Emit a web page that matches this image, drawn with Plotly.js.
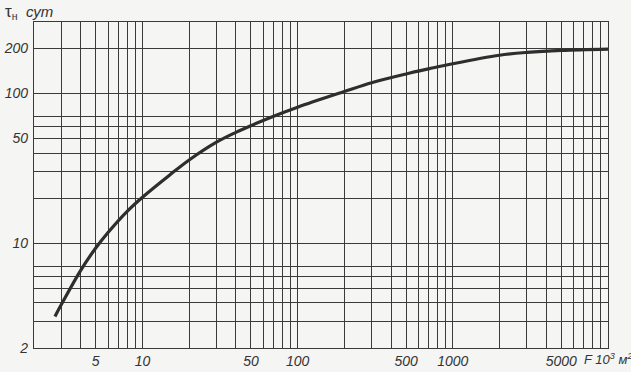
<!DOCTYPE html>
<html><head><meta charset="utf-8">
<script src="https://cdn.plot.ly/plotly-3.0.1.min.js"></script>
<style>html,body{margin:0;padding:0;background:#f5f5f4;}</style>
</head><body>
<div id="chart" style="width:631px;height:372px;"></div>
<script>
// Curve: F (10^3 m^2) vs tau_n (days)
const areaF = [2.73, 3, 4, 5, 6, 8, 10, 15, 20, 30, 40, 50, 70, 100, 200, 300, 500, 700, 1000, 2000, 3000, 5000, 10000];
const tauN  = [3.25, 3.9, 6.6, 9.3, 11.8, 16.4, 20.3, 28.6, 36, 47.3, 55, 61, 70.5, 81, 103, 118, 135, 146, 158, 180, 188, 194, 198];

const xGrid = [3,4,5,6,7,8,9,10,20,30,40,50,60,70,80,90,100,200,300,400,500,600,700,800,900,1000,2000,3000,4000,5000,6000,7000,8000,9000];
const xLabels = {5:'5',10:'10',50:'50',100:'100',500:'500',1000:'1000',5000:'5000'};
const yGrid = [2,3,4,5,6,7,10,20,30,40,50,60,70,100,200];
const yLabels = {2:'2',10:'10',50:'50',100:'100',200:'200'};

const tickFont = {family:'Liberation Sans, Arial, sans-serif', size:14, color:'#333', style:'italic'};
const ink = '#3a3a3a';

const trace = {
  x: areaF, y: tauN, type:'scatter', mode:'lines',
  line:{color:'#2e2e2e', width:3.2, shape:'spline', smoothing:1},
  hoverinfo:'skip'
};

const layout = {
  width:631, height:372,
  margin:{l:34, r:23, t:22, b:24},
  paper_bgcolor:'#f5f5f4', plot_bgcolor:'#f5f5f4',
  showlegend:false,
  xaxis:{
    type:'log', range:[Math.log10(2), 4],
    tickmode:'array', tickvals:xGrid, ticktext:xGrid.map(v=>xLabels[v]||''),
    ticks:'', showgrid:true, gridcolor:ink, gridwidth:1,
    showline:true, mirror:true, linecolor:ink, linewidth:1.2,
    zeroline:false, tickfont:tickFont, ticklabelstandoff:0
  },
  yaxis:{
    type:'log', range:[Math.log10(2), Math.log10(300)],
    tickmode:'array', tickvals:yGrid, ticktext:yGrid.map(v=>yLabels[v]||''),
    ticks:'', showgrid:true, gridcolor:ink, gridwidth:1,
    showline:true, mirror:true, linecolor:ink, linewidth:1.2,
    zeroline:false, tickfont:tickFont, ticklabelstandoff:2
  },
  annotations:[
    {xref:'paper', yref:'paper', x:1.0, y:0, xanchor:'left', yanchor:'top', xshift:-26, yshift:-1,
     text:'F 10<sup>3</sup> м<sup>2</sup>', showarrow:false,
     font:{family:'Liberation Sans, Arial, sans-serif', size:13, color:'#333', style:'italic'}},
    {xref:'paper', yref:'paper', x:0, y:1, xanchor:'left', yanchor:'bottom', xshift:-31, yshift:-2,
     text:'<span style="font-size:17px">τ</span><sub>н</sub>  <i>сут</i>', showarrow:false,
     font:{family:'Liberation Sans, Arial, sans-serif', size:15, color:'#333'}}
  ]
};

Plotly.newPlot('chart', [trace], layout, {staticPlot:true, displayModeBar:false});
</script>
</body></html>
